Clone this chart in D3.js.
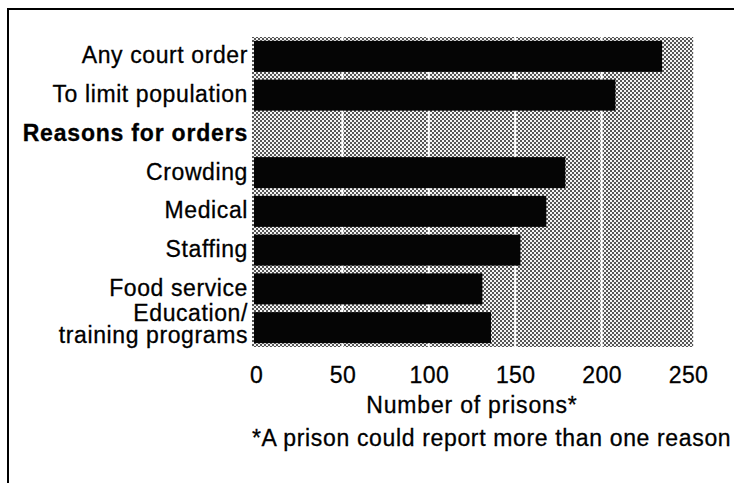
<!DOCTYPE html>
<html>
<head>
<meta charset="utf-8">
<script src="https://cdn.jsdelivr.net/npm/d3@7"></script>
<style>
  body { margin: 0; background: #fff; }
  svg text { font-family: "Liberation Sans", Arial, sans-serif; fill: #000; stroke: #000; stroke-width: 0.3px; }
</style>
</head>
<body>
<div id="chart"></div>
<script>
// ---- data ----
const categories = [
    "Any court order",
    "To limit population",
    "Reasons for orders",
    "Crowding",
    "Medical",
    "Staffing",
    "Food service",
    "Education/\ntraining programs"
];
const prisons = [235, 208, null, 179, 168, 153, 131, 136];   // null = heading row, no bar
const headings = ["Reasons for orders"];
const tickValues = [0, 50, 100, 150, 200, 250];
const gridValues = [50, 100, 150, 200];
const axisTitle = "Number of prisons*";
const footnote = "*A prison could report more than one reason";

// ---- svg setup ----
const width = 734;
const height = 483;

const svg = d3.select("#chart")
    .append("svg")
    .attr("width", width)
    .attr("height", height);

// stipple pattern for the plot background
const defs = svg.append("defs");
const pat = defs.append("pattern")
    .attr("id", "stipple")
    .attr("patternUnits", "userSpaceOnUse")
    .attr("width", 4)
    .attr("height", 4);
pat.append("rect").attr("width", 4).attr("height", 4).attr("fill", "#f4f4f4");
pat.append("rect").attr("x", 0).attr("y", 0).attr("width", 2).attr("height", 2).attr("fill", "#555");
pat.append("rect").attr("x", 2).attr("y", 2).attr("width", 2).attr("height", 2).attr("fill", "#555");

// outer frame (runs off the right and bottom edges)
svg.append("rect")
    .attr("x", 8).attr("y", 9)
    .attr("width", 760).attr("height", 520)
    .attr("fill", "none")
    .attr("stroke", "#000")
    .attr("stroke-width", 2);

// ---- scales ----
const x = d3.scaleLinear().domain([0, 250]).range([256, 688]);
const y = d3.scaleBand()
    .domain(categories)
    .range([37, 347])
    .paddingInner(0.2)
    .paddingOuter(0.1);

// plot background
svg.append("rect")
    .attr("x", x(0) - 4)
    .attr("y", 37)
    .attr("width", x(253) - x(0) + 4)
    .attr("height", 310)
    .attr("fill", "url(#stipple)");

// white grid lines
svg.selectAll(".grid")
    .data(gridValues)
    .enter()
    .append("line")
    .attr("class", "grid")
    .attr("x1", d => x(d)).attr("x2", d => x(d))
    .attr("y1", 37).attr("y2", 347)
    .attr("stroke", "#fff")
    .attr("stroke-width", 2);

// bars
svg.selectAll(".bar")
    .data(categories.map((c, i) => ({ c, v: prisons[i] })).filter(d => d.v !== null))
    .enter()
    .append("rect")
    .attr("class", "bar")
    .attr("x", x(0) - 2)
    .attr("y", d => y(d.c))
    .attr("width", d => x(d.v) - x(0) + 2)
    .attr("height", y.bandwidth())
    .attr("fill", "#050505");

// category labels, right aligned
const labels = svg.selectAll(".cat")
    .data(categories)
    .enter()
    .append("text")
    .attr("class", "cat")
    .attr("text-anchor", "end")
    .style("font-size", "23px")
    .style("letter-spacing", d => headings.includes(d) ? "0.8px" : "0.6px")
    .attr("font-weight", d => headings.includes(d) ? "bold" : "normal")
    .attr("y", d => y(d) + y.bandwidth() / 2 + 7);

labels.each(function(d) {
    const lines = d.split("\n");
    const t = d3.select(this);
    lines.forEach((ln, i) => {
        t.append("tspan")
            .attr("x", 248)
            .attr("dy", i === 0 ? -(lines.length - 1) * 14 : 22)
            .text(ln);
    });
});

// x axis (labels only)
const gx = svg.append("g")
    .attr("transform", "translate(0,367)")
    .call(d3.axisBottom(x).tickValues(tickValues).tickSize(0).tickPadding(0));
gx.select(".domain").remove();
gx.selectAll("text")
    .style("font-size", "23px")
    .style("letter-spacing", "0.4px")
    .style("font-family", "'Liberation Sans', Arial, sans-serif")
    .attr("fill", "#000");

// axis title
svg.append("text")
    .attr("x", 472)
    .attr("y", 413)
    .attr("text-anchor", "middle")
    .style("font-size", "23px")
    .style("letter-spacing", "0.8px")
    .text(axisTitle);

// footnote
svg.append("text")
    .attr("x", 252)
    .attr("y", 446)
    .style("font-size", "23px")
    .style("letter-spacing", "0.65px")
    .text(footnote);
</script>
</body>
</html>
